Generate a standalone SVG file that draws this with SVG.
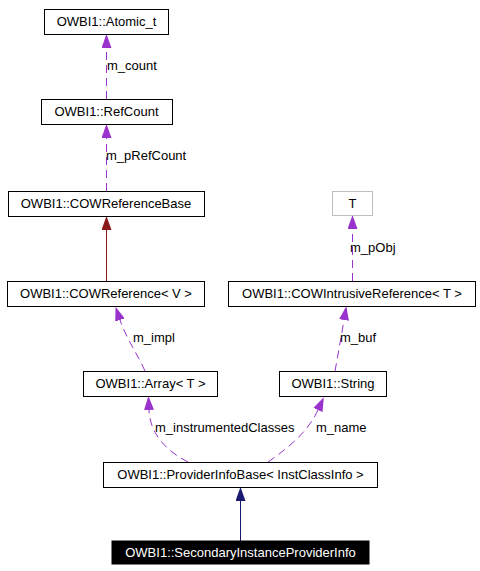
<svg xmlns="http://www.w3.org/2000/svg" width="480" height="571" viewBox="0 0 480 571">
<style>
.n rect{fill:#fff;stroke:#000;stroke-width:1}
.n text,.lbl{font-family:"Liberation Sans",Arial,sans-serif;font-size:13px;fill:#000}
.n text{text-anchor:middle}
.e{fill:none;stroke:#9a32cd;stroke-width:1;stroke-dasharray:8,5}
</style>
<defs>
<marker id="ap" viewBox="0 0 14 10" refX="0" refY="5" markerWidth="14" markerHeight="10" markerUnits="userSpaceOnUse" orient="auto"><polygon points="0,0 14,5 0,10" fill="#9a32cd"/></marker>
<marker id="ar" viewBox="0 0 14 10" refX="0" refY="5" markerWidth="14" markerHeight="10" markerUnits="userSpaceOnUse" orient="auto"><polygon points="0,0 14,5 0,10" fill="#8b1a1a"/></marker>
<marker id="an" viewBox="0 0 14 10" refX="0" refY="5" markerWidth="14" markerHeight="10" markerUnits="userSpaceOnUse" orient="auto"><polygon points="0,0 14,5 0,10" fill="#191970"/></marker>
</defs>
<rect width="480" height="571" fill="#fff"/>
<g id="connectors">
<path class="e" d="M106.5,99 L106.5,48" marker-end="url(#ap)"/>
<path class="e" d="M106.5,191 L106.5,138" marker-end="url(#ap)"/>
<path d="M106.5,281 L106.5,230" fill="none" stroke="#8b1a1a" marker-end="url(#ar)"/>
<path class="e" d="M145,371 C138,355 126,338 120,320" marker-end="url(#ap)"/>
<path class="e" d="M352.5,281 L352.5,229" marker-end="url(#ap)"/>
<path class="e" d="M335,371 C338,355 341,338 344,320" marker-end="url(#ap)"/>
<path class="e" d="M188,462 C168,452 150,435 149,410" marker-end="url(#ap)"/>
<path class="e" d="M268,462 C288,448 308,432 318,410" marker-end="url(#ap)"/>
<path d="M240.5,541 L240.5,501" fill="none" stroke="#191970" marker-end="url(#an)"/>
<text class="lbl" x="107" y="70">m_count</text>
<text class="lbl" x="106" y="160">m_pRefCount</text>
<text class="lbl" x="133" y="342">m_impl</text>
<text class="lbl" x="350" y="252">m_pObj</text>
<text class="lbl" x="340" y="342">m_buf</text>
<text class="lbl" x="155" y="432">m_instrumentedClasses</text>
<text class="lbl" x="316" y="432">m_name</text>
</g>
<g id="atomic" class="n"><rect x="44.5" y="9.5" width="124" height="25"/><text x="106.5" y="26">OWBI1::Atomic_t</text></g>
<g id="refcount" class="n"><rect x="41.5" y="99.5" width="131" height="25"/><text x="106.5" y="116">OWBI1::RefCount</text></g>
<g id="cowrefbase" class="n"><rect x="8.5" y="191.5" width="196" height="25"/><text x="106" y="208">OWBI1::COWReferenceBase</text></g>
<g id="cowref" class="n"><rect x="7.5" y="281.5" width="197" height="25"/><text x="106" y="298">OWBI1::COWReference&lt; V &gt;</text></g>
<g id="array" class="n"><rect x="83.5" y="371.5" width="134" height="25"/><text x="150.5" y="388">OWBI1::Array&lt; T &gt;</text></g>
<g id="T" class="n"><rect x="332.5" y="191.5" width="40" height="24" style="stroke:#bfbfbf"/><text x="352.5" y="208">T</text></g>
<g id="cowintrusive" class="n"><rect x="228.5" y="281.5" width="247" height="25"/><text x="352" y="298">OWBI1::COWIntrusiveReference&lt; T &gt;</text></g>
<g id="string" class="n"><rect x="279.5" y="371.5" width="107" height="25"/><text x="333" y="388">OWBI1::String</text></g>
<g id="providerbase" class="n"><rect x="103.5" y="462.5" width="274" height="25"/><text x="240.5" y="479">OWBI1::ProviderInfoBase&lt; InstClassInfo &gt;</text></g>
<g id="secondary" class="n"><rect x="112" y="541" width="257" height="23" style="fill:#000;stroke:#000"/><text x="240.5" y="557" style="fill:#fff">OWBI1::SecondaryInstanceProviderInfo</text></g>
</svg>
